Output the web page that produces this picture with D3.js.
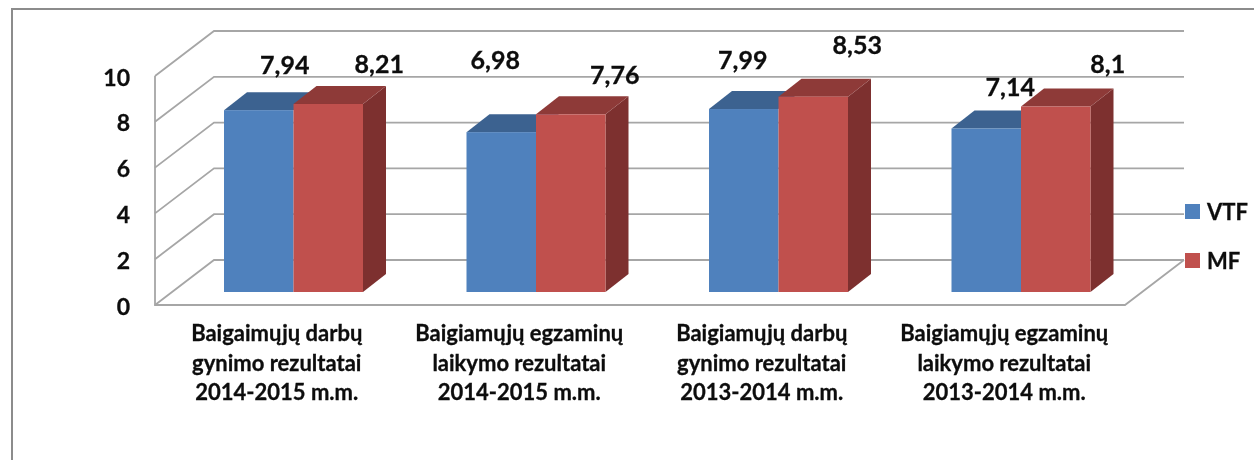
<!DOCTYPE html>
<html><head><meta charset="utf-8">
<script src="https://cdn.jsdelivr.net/npm/d3@7"></script>
<style>html,body{margin:0;padding:0;background:#fff}svg{display:block;filter:blur(0.4px)}text{font-family:Lato,Carlito,sans-serif;font-weight:700;fill:#0d0d0d;stroke:#0d0d0d;stroke-width:.3px}</style>
</head><body><svg id="c" width="1254" height="460"></svg>
<script>
const categories = [
  ["Baigaimųjų darbų","gynimo rezultatai","2014-2015 m.m."],
  ["Baigiamųjų egzaminų","laikymo rezultatai","2014-2015 m.m."],
  ["Baigiamųjų darbų","gynimo rezultatai","2013-2014 m.m."],
  ["Baigiamųjų egzaminų","laikymo rezultatai","2013-2014 m.m."]
];
const seriesNames = ["VTF","MF"];
const vtf = [7.94,6.98,7.99,7.14];
const mf = [8.21,7.76,8.53,8.1];
const yTicks = [0,2,4,6,8,10];
const colors = {VTF:{front:"#4f81bd",top:"#3c6290"},MF:{front:"#c0504d",top:"#8e3a38",side:"#7d302f"}};
// label nudges from the default position (top-centre of the bar's top face)
const labelNudge = {VTF:[[3,-36],[-29,-63],[-24,-40],[1,-32]],MF:[[28,-31],[21,-30],[21,-43],[29,-34]]};

const svg = d3.select("#c");
const grid = "#a6a6a6";
const depthX = 59, depthY = 45, barDX = 23, barDY = 18;
const x = d3.scaleBand().domain(d3.range(4)).range([155,1125]);
const s = d3.scaleBand().domain(seriesNames).range([0,139]);
const inset = 69;
const yFront = d3.scaleLinear().domain([0,10]).range([305,76]);
const yBar = d3.scaleLinear().domain([0,10]).range([292,63]);

// frame
svg.append("path").attr("d","M12,460V9H1254").attr("fill","none").attr("stroke","#8c8c8c").attr("stroke-width",2);

// walls
const g = svg.append("g").attr("fill","none").attr("stroke",grid).attr("stroke-width",1.8);
yTicks.forEach(t=>{
  const y=yFront(t);
  g.append("path").attr("d",`M155,${y}L${155+depthX},${y-depthY}L${1125+depthX},${y-depthY}`);
});
g.append("path").attr("d",`M155,${yFront(10)}V${yFront(0)}H1125L${1125+depthX},${yFront(0)-depthY}`);

// bars
const marks = svg.append("g");
[[seriesNames[0],vtf],[seriesNames[1],mf]].forEach(([name,vals])=>{
  const col=colors[name];
  vals.forEach((v,i)=>{
    const x0=x(i)+inset+s(name), w=s.bandwidth(), y0=yBar(0), y1=yBar(v);
    if(col.side) marks.append("path").attr("fill",col.side)
      .attr("d",`M${x0+w},${y0}V${y1}l${barDX},${-barDY}V${y0-barDY}Z`);
    marks.append("path").attr("fill",col.top)
      .attr("d",`M${x0},${y1}h${w}l${barDX},${-barDY}h${-w}Z`);
    marks.append("rect").attr("x",x0).attr("y",y1).attr("width",w).attr("height",y0-y1).attr("fill",col.front);
  });
});

// data labels
const fmt = v => String(v).replace(".",",");
[[seriesNames[0],vtf],[seriesNames[1],mf]].forEach(([name,vals])=>{
  vals.forEach((v,i)=>{
    const n=labelNudge[name][i];
    svg.append("text").attr("x",x(i)+inset+s(name)+s.bandwidth()/2+barDX+n[0])
      .attr("y",yBar(v)-barDY+n[1]+18).attr("text-anchor","middle")
      .attr("font-size",25).text(fmt(v));
  });
});

// y ticks
yTicks.forEach(t=>svg.append("text").attr("x",130).attr("y",yFront(t)+9.5).attr("text-anchor","end").attr("font-size",23).text(t));

// category labels
categories.forEach((lines,i)=>lines.forEach((l,j)=>{
  svg.append("text").attr("x",x(i)+x.bandwidth()/2+0.5).attr("y",341+j*29.5).attr("text-anchor","middle").attr("font-size",22).text(l);
}));

// legend
seriesNames.forEach((n,i)=>{
  const y=204+i*49;
  svg.append("rect").attr("x",1185).attr("y",y).attr("width",15).attr("height",15).attr("fill",colors[n].front);
  svg.append("text").attr("x",1207).attr("y",y+15.5).attr("font-size",22).text(n);
});
</script></body></html>
